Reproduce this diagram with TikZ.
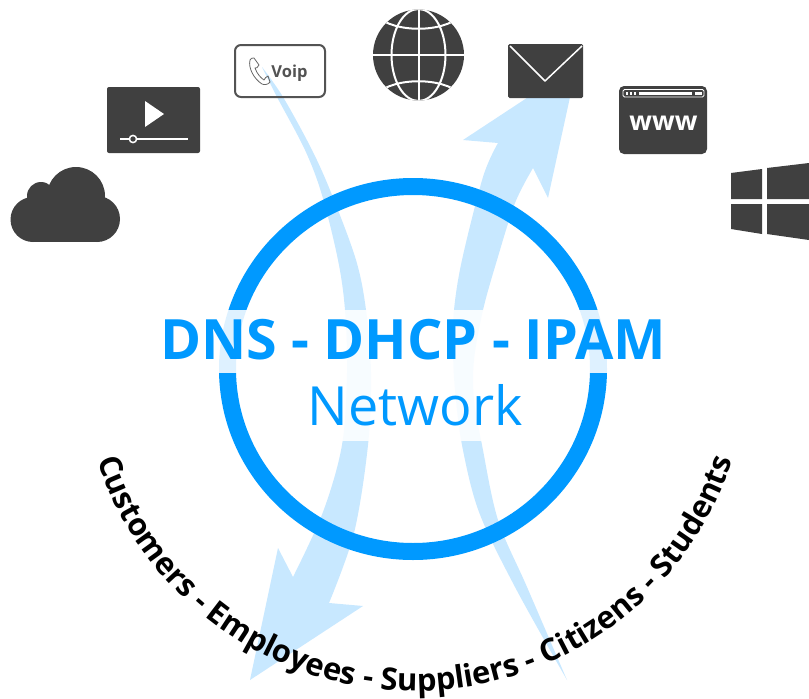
\documentclass[tikz,border=0pt]{standalone}
\usepackage{fontspec}
\setmainfont{Open Sans}
\usetikzlibrary{decorations.text}
\definecolor{ringblue}{HTML}{0099FF}
\definecolor{palearrow}{HTML}{C8E8FF}
\definecolor{icondark}{HTML}{404040}
\tikzset{
  iconfill/.style={fill=icondark,draw=none},
  whiteline/.style={draw=white,line width=2pt},
  arrowfill/.style={fill=palearrow,draw=none}
}
\begin{document}
\begin{tikzpicture}[x=1pt,y=-1pt]
\useasboundingbox (0,0) rectangle (809,699);
\fill[white] (0,0) rectangle (809,699);
% pale arrows
\fill[arrowfill] plot[smooth,tension=.55] coordinates {(262,67) (277,97) (305,150) (322,195) (338,260) (345,310) (347,373) (342,445) (323,512) (293,577)}
  -- (278,548) -- (250,680) -- (363,606) -- (329,603)
  -- plot[smooth,tension=.55] coordinates {(329,603) (354,533) (368,445) (371,373) (366,310) (356,260) (332,195) (312,150) (283,97) (262,67)} -- cycle;
\fill[arrowfill] (577,65) -- (463,140) -- (498,143)
  -- plot[smooth,tension=.55] coordinates {(498,143) (483,177) (462,260) (454,310) (453,350) (455,390) (462,445) (479,512) (515,587) (567,680)}
  -- plot[smooth,tension=.55] coordinates {(567,680) (527,587) (498,520) (482,445) (474,400) (474,360) (483,310) (497,260) (515,203) (533,168)}
  -- (548,198) -- cycle;
% ring
\draw[ringblue,line width=17pt] (413,369) ellipse [x radius=185.5,y radius=182.5];
% pale bands behind the centre text
\fill[white,opacity=.87] (155,310) rectangle (672,373);
\fill[white,opacity=.87] (300,373) rectangle (530,441);
% cloud
\fill[iconfill] (33,219.5) circle (22.5);
\fill[iconfill] (97,219) circle (23);
\fill[iconfill] (76,196) circle (29);
\fill[iconfill] (41,196) circle (14);
\fill[iconfill] (33,205) rectangle (97,242);
% video
\fill[iconfill,rounded corners=2pt] (107,87) rectangle (200,153);
\fill[white] (145,101) -- (164,114) -- (145,127) -- cycle;
\draw[white,line width=1.5pt] (120,139) -- (188,139);
\draw[white,fill=icondark,line width=1.5pt] (133,139) circle (3.6);
% voip
\draw[draw=icondark!90,line width=2pt,rounded corners=6pt] (235,45) rectangle (325,97);
\draw[draw=icondark!80,line width=.8pt,line join=round] (254,58) -- (259,65) .. controls (258,68) and (256,68) .. (255,68) .. controls (257,74) and (261,78) .. (264,80) .. controls (265,78) and (266,77) .. (268,76) -- (270,82) .. controls (268,85) and (264,85) .. (262,84) .. controls (254,79) and (248,68) .. (250,60) .. controls (251,58) and (252,58) .. (254,58) -- cycle;
\node[text=icondark!90,font=\bfseries\fontsize{16.5}{19}\selectfont,inner sep=0pt,anchor=base] (voip) at (289.5,77) {Voip};
% globe
\fill[iconfill] (418.5,55) circle (45.5);
\begin{scope}
\clip (418.5,55) circle (45.5);
\draw[whiteline] (418.5,8) -- (418.5,102) (371,55) -- (466,55);
\draw[whiteline] (418.5,55) ellipse [x radius=27,y radius=46];
\draw[whiteline] (376,16) .. controls (395,33) and (442,33) .. (461,16);
\draw[whiteline] (376,94) .. controls (395,77) and (442,77) .. (461,94);
\end{scope}
% mail
\fill[iconfill,rounded corners=1.5pt] (508,44) rectangle (583,98);
\draw[white,line width=1.5pt,line join=round] (510,46) -- (545,81) -- (582,46);
% www
\fill[iconfill,rounded corners=5pt] (619,86) rectangle (707,154);
\draw[white,line width=.8pt,rounded corners=1.5pt] (623,89.5) rectangle (704,97);
\fill[white] (639,91.5) rectangle (692,95);
\foreach \dx in {625.5,629.5,633.5}{\fill[white] (\dx,91.5) rectangle +(2.2,3.5);}
\fill[white] (695,91.5) rectangle (701.5,95);
\node[text=white,font=\bfseries\fontsize{26.5}{28}\selectfont,inner sep=0pt,anchor=base] (www) at (663.5,130) {www};
% windows
\fill[iconfill] (731,173) -- (762,169) -- (762,199) -- (731,199) -- cycle;
\fill[iconfill] (767,168) -- (809,163) -- (809,199) -- (767,199) -- cycle;
\fill[iconfill] (731,204) -- (762,204) -- (762,234) -- (731,229) -- cycle;
\fill[iconfill] (767,204) -- (809,204) -- (809,240) -- (767,234) -- cycle;
% centre text
\node[text=ringblue,font=\bfseries\fontsize{55.6}{57}\selectfont,inner sep=0pt,anchor=base] (title) at (413,359) {DNS - DHCP - IPAM};
\node[text=ringblue,font=\fontsize{54}{56}\selectfont,inner sep=0pt,anchor=base] (net) at (415,425) {Network};
% curved text
\path[decorate,decoration={text along path,text align=center,
  text={|\bfseries\fontsize{31}{33}\selectfont|Customers - Employees - Suppliers - Citizens - Students}}]
  (415,357) ++(172:334) arc [start angle=172,end angle=8,radius=334];
\end{tikzpicture}
\end{document}
